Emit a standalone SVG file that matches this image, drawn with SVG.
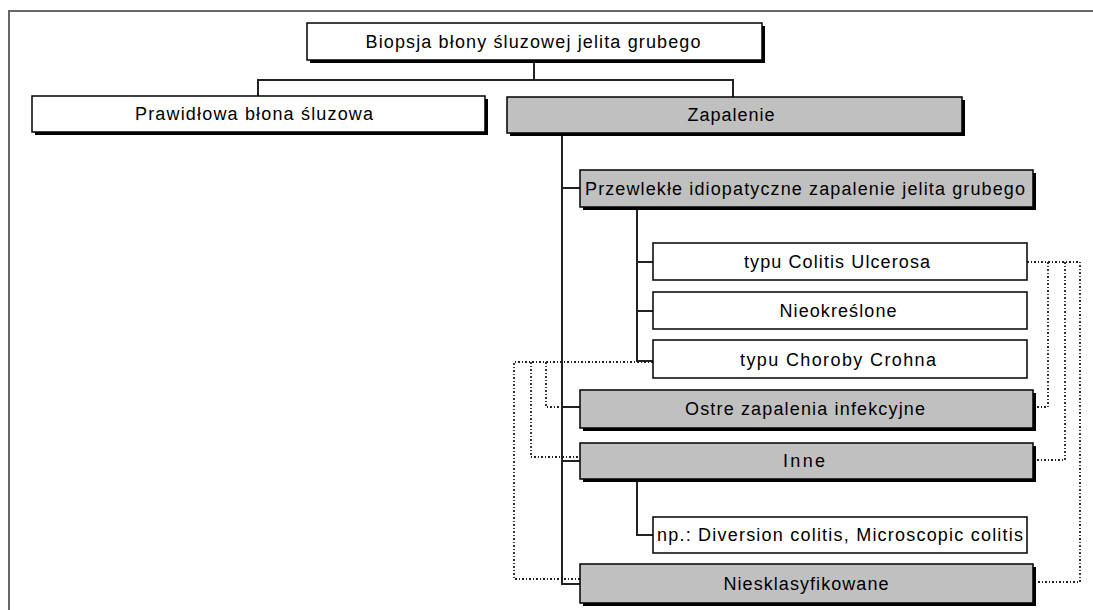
<svg xmlns="http://www.w3.org/2000/svg" width="1093" height="610" viewBox="0 0 1093 610">
<style>
.sh{fill:#000}
.bw{fill:#fff;stroke:#000;stroke-width:1.5}
.bg2{fill:#c0c0c0;stroke:#000;stroke-width:1.5}
.t{font-family:"Liberation Sans",Arial,sans-serif;font-size:18px;fill:#000;text-anchor:middle}
.c{fill:none;stroke:#222;stroke-width:2}
.d{fill:none;stroke:#222;stroke-width:1.8;stroke-dasharray:2 2 1 2}
.f{fill:none;stroke:#666;stroke-width:2}
</style>
<rect width="1093" height="610" fill="#fff"/>
<path class="f" d="M9,610 V11 H1093"/>
<g id="connectors">
<path class="c" d="M534,60 V80 M258,96 V80 H733 V97"/>
<path class="c" d="M562,133 V584 H580 M562,188 H580 M562,407 H580 M562,461 H580"/>
<path class="c" d="M637,207 V361 H653 M637,262 H653 M637,311 H653"/>
<path class="c" d="M637,480 V535 H653"/>
<path class="d" d="M653,362 H514 V579 H580 M531,362 V457 H580 M546,362 V407 H580"/>
<path class="d" d="M1027,262 H1080 V582 H1035 M1048,262 V407 H1035 M1065,262 V460 H1035"/>
</g>
<g id="n1"><rect class="sh" x="310" y="26" width="455" height="37"/><rect class="bw" x="307" y="23" width="455" height="37"/><text class="t" x="533" y="48" textLength="335" lengthAdjust="spacing">Biopsja błony śluzowej jelita grubego</text></g>
<g id="n2"><rect class="sh" x="35" y="99" width="453" height="36"/><rect class="bw" x="32" y="96" width="453" height="36"/><text class="t" x="254" y="120" textLength="238" lengthAdjust="spacing">Prawidłowa błona śluzowa</text></g>
<g id="n3"><rect class="sh" x="510" y="100" width="455" height="36"/><rect class="bg2" x="507" y="97" width="455" height="36"/><text class="t" x="731" y="121" textLength="87" lengthAdjust="spacing">Zapalenie</text></g>
<g id="n4"><rect class="sh" x="583" y="173" width="453" height="37"/><rect class="bg2" x="580" y="170" width="453" height="37"/><text class="t" x="805" y="195" textLength="440" lengthAdjust="spacing">Przewlekłe idiopatyczne zapalenie jelita grubego</text></g>
<g id="n5"><rect class="bw" x="653" y="243" width="374" height="37"/><text class="t" x="837" y="268" textLength="186" lengthAdjust="spacing">typu Colitis Ulcerosa</text></g>
<g id="n6"><rect class="bw" x="653" y="292" width="374" height="37"/><text class="t" x="838" y="317" textLength="117" lengthAdjust="spacing">Nieokreślone</text></g>
<g id="n7"><rect class="bw" x="653" y="340" width="374" height="38"/><text class="t" x="838" y="366" textLength="196" lengthAdjust="spacing">typu Choroby Crohna</text></g>
<g id="n8"><rect class="sh" x="583" y="393" width="453" height="38"/><rect class="bg2" x="580" y="390" width="453" height="38"/><text class="t" x="805" y="415" textLength="240" lengthAdjust="spacing">Ostre zapalenia infekcyjne</text></g>
<g id="n9"><rect class="sh" x="583" y="446" width="453" height="36"/><rect class="bg2" x="580" y="443" width="453" height="36"/><text class="t" x="804" y="467" textLength="42" lengthAdjust="spacing">Inne</text></g>
<g id="n10"><rect class="bw" x="653" y="517" width="374" height="36"/><text class="t" x="840" y="541" textLength="366" lengthAdjust="spacing">np.: Diversion colitis, Microscopic colitis</text></g>
<g id="n11"><rect class="sh" x="583" y="567" width="453" height="39"/><rect class="bg2" x="580" y="564" width="453" height="39"/><text class="t" x="806" y="590" textLength="165" lengthAdjust="spacing">Niesklasyfikowane</text></g>
</svg>
